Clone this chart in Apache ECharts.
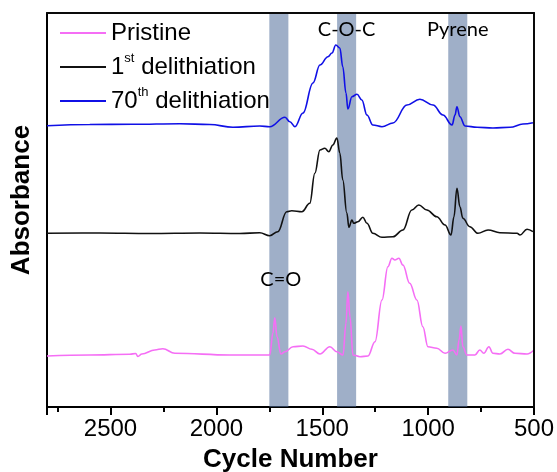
<!DOCTYPE html>
<html><head><meta charset="utf-8">
<script src="https://cdn.jsdelivr.net/npm/echarts@6/dist/echarts.min.js"></script>
<style>html,body{margin:0;padding:0;background:#fff;overflow:hidden}#wrap{position:relative;width:557px;height:472px}#c,#f{position:absolute;left:0;top:0;width:557px;height:472px}#f{pointer-events:none;z-index:10}</style>
</head><body><div id="wrap"><div id="c"></div><div id="f"></div></div>
<script>
// Wavenumber (x) / absorbance (arbitrary units, offset traces)
const pristineX = [2800,2598,2409,2381,2371,2352,2291,2253,2196,1937,1795,1748,1733,1724,1714,1695,1676,1638,1591,1549,1511,1464,1431,1402,1388,1379,1369,1355,1322,1284,1251,1218,1190,1171,1157,1138,1119,1087,1053,1025,1001,959,920,883,864,854,845,836,817,779,756,737,713,694,661,623,590,533,500];
const pristineY = [51,52,52.7,53.5,50.5,53,57,58.3,53.7,52,52,52,74,89.3,70.3,53,55.3,60.3,61,57.7,53,60.3,55.3,52,83.7,115.3,90.3,52,50.3,51,65.3,107,140.3,148.7,147,148.7,142,123.7,107,80.3,60.3,58.7,53.7,57,52,67,81,60.3,52,52,57,53.7,60.3,53.7,53,57.7,53.7,53,57];

const firstX = [2800,2551,2314,2078,1889,1795,1748,1710,1668,1644,1596,1559,1535,1511,1488,1469,1450,1431,1417,1403,1384,1374,1360,1351,1332,1308,1289,1261,1218,1166,1119,1077,1044,1006,959,920,892,878,864,850,836,803,765,717,661,580,566,533,505];
const firstY = [173.7,174,173.5,174,173.5,174.3,171.3,175.3,195.3,196.3,195.3,203.7,233.7,257,258.7,255.3,262,269,254,227,194,179.7,187,183.7,185.3,189.7,183.7,173.7,169.7,170.3,177,197,202,197,190.3,182,172,190.3,218.7,200.3,188.7,180.3,173.7,177,174.3,173.7,172,177.7,175.3];

const seventiethX = [2800,2598,2395,2173,2031,1922,1795,1748,1676,1653,1629,1591,1544,1511,1473,1454,1436,1417,1403,1388,1379,1360,1336,1313,1289,1261,1218,1166,1100,1039,977,930,887,873,864,850,826,769,694,613,552,505];
const seventiethY = [281.3,282.5,282.7,283.3,282.5,279.7,281,280.3,289.7,285.3,280.3,294,324,342,350.3,354,362,359,340.3,314,298,310.3,312.7,307,292,282,280.3,284,302,307.7,302,292,282,292,300.3,290.3,281,279.7,279,279.7,283,284.3];

const seriesNames = ['Pristine', '1st delithiation', '70th delithiation'];
const legendLabels = ['Pristine', '1{sup|st} delithiation', '70{sup|th} delithiation'];
const bands = [[1750, 1660], [1430, 1340], [905, 815]];
const annotations = [
  {text: 'C-O-C', x: 1385, y: 377},
  {text: 'Pyrene', x: 860, y: 377},
  {text: 'C=O', x: 1696, y: 127}
];
const xMin = 500, xMax = 2800, yMin = 0, yMax = 394;

function zip(xs, ys) { return xs.map((x, i) => [x, ys[i]]); }

const chart = echarts.init(document.getElementById('c'));
const lineCommon = {type: 'line', showSymbol: false, smooth: 0.4, smoothMonotone: 'x', xAxisIndex: 0, yAxisIndex: 0};
chart.setOption({
  animation: false,
  backgroundColor: '#fff',
  grid: {left: 47, top: 13, width: 487, height: 394, outerBoundsMode: 'none'},
  xAxis: [
    {type: 'value', min: xMin, max: xMax, interval: 250, inverse: true, position: 'bottom',
     axisLine: {show: false}, splitLine: {show: false},
     axisTick: {show: true, length: 5, lineStyle: {color: '#000', width: 2}},
     axisLabel: {show: false}},
    {type: 'value', min: xMin, max: xMax, interval: 500, inverse: true, position: 'bottom',
     axisLine: {show: true, onZero: false, lineStyle: {color: '#000', width: 2}}, splitLine: {show: false},
     axisTick: {show: true, length: 8, lineStyle: {color: '#000', width: 2}},
     axisLabel: {show: true, color: '#000', fontSize: 24, fontFamily: 'Liberation Sans', margin: 10,
       formatter: v => (v === xMax ? '' : String(v))},
     name: 'Cycle Number', nameLocation: 'middle', nameGap: 40,
     nameTextStyle: {color: '#000', fontSize: 26, fontWeight: 'bold', fontFamily: 'Liberation Sans'}}
  ],
  yAxis: [
    {type: 'value', min: yMin, max: yMax, position: 'left',
     axisLine: {show: true, onZero: false, lineStyle: {color: '#000', width: 2}}, axisTick: {show: false},
     axisLabel: {show: false}, splitLine: {show: false},
     name: 'Absorbance', nameLocation: 'middle', nameGap: 12,
     nameTextStyle: {color: '#000', fontSize: 26, fontWeight: 'bold', fontFamily: 'Liberation Sans', padding: [0, 0, 0, 20]}}
  ],
  legend: {
    orient: 'vertical', left: 55, top: 13, itemGap: 4, itemWidth: 46, itemHeight: 2, icon: 'rect',
    data: seriesNames,
    formatter: name => legendLabels[seriesNames.indexOf(name)],
    textStyle: {color: '#000', fontSize: 24, fontFamily: 'Liberation Sans', lineHeight: 30,
      rich: {sup: {fontSize: 13, fontFamily: 'Liberation Sans', color: '#000', verticalAlign: 'top', lineHeight: 18}}}
  },
  series: [
    Object.assign({}, lineCommon, {name: seriesNames[0], data: zip(pristineX, pristineY), z: 3,
      itemStyle: {color: '#f56ef5'}, lineStyle: {color: '#f56ef5', width: 1.6}}),
    Object.assign({}, lineCommon, {name: seriesNames[1], data: zip(firstX, firstY), z: 3,
      itemStyle: {color: '#111'}, lineStyle: {color: '#111', width: 1.6}}),
    Object.assign({}, lineCommon, {name: seriesNames[2], data: zip(seventiethX, seventiethY), z: 3,
      itemStyle: {color: '#1010e6'}, lineStyle: {color: '#1010e6', width: 1.6}}),
    {type: 'line', name: 'bands', data: [], z: 5, silent: true,
     markArea: {silent: true, itemStyle: {color: 'rgba(80,110,155,0.55)'}, label: {show: false},
       data: bands.map(b => [{xAxis: b[0]}, {xAxis: b[1]}])},
     markPoint: {silent: true, symbol: 'circle', symbolSize: 0,
       label: {show: true, position: 'inside', color: '#000', fontSize: 20, fontFamily: 'Lato', formatter: p => p.name},
       data: annotations.map(a => ({name: a.text, coord: [a.x, a.y]}))}}
  ]
});

// Overlay instance: top and right frame edges as axis lines (same grid box)
const frame = echarts.init(document.getElementById('f'));
frame.setOption({
  animation: false,
  backgroundColor: 'transparent',
  grid: {left: 47, top: 13, width: 487, height: 394, outerBoundsMode: 'none'},
  xAxis: [{type: 'value', min: xMin, max: xMax, inverse: true, position: 'top',
    axisLine: {show: true, onZero: false, lineStyle: {color: '#0a0a0a', width: 2}},
    axisTick: {show: true, length: 0}, axisLabel: {show: true, color: 'transparent'}, splitLine: {show: false}}],
  yAxis: [{type: 'value', min: yMin, max: yMax, position: 'right',
    axisLine: {show: true, onZero: false, lineStyle: {color: '#0a0a0a', width: 2}},
    axisTick: {show: true, length: 0}, axisLabel: {show: true, color: 'transparent'}, splitLine: {show: false}}],
  series: [{type: 'line', data: [], silent: true}]
});
</script></body></html>
